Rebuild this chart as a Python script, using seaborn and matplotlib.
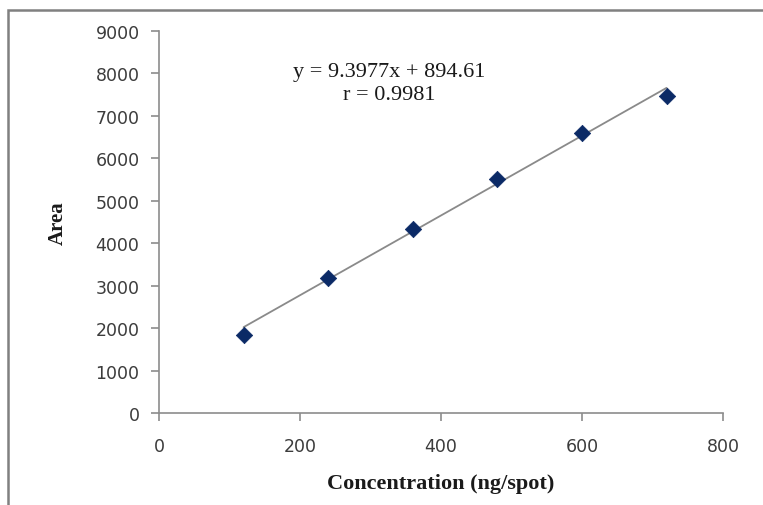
import numpy as np
import pandas as pd
import matplotlib
matplotlib.use("Agg")
import matplotlib.pyplot as plt
from matplotlib.patches import Rectangle
import seaborn as sns

# Calibration data
concentration = [120, 240, 360, 480, 600, 720]          # ng/spot
area = [1846, 3171, 4331, 5522, 6603, 7465]

# Linear fit reported on the chart
slope = 9.3977
intercept = 894.61
r_value = 0.9981

x_ticks = [0, 200, 400, 600, 800]
y_ticks = [0, 1000, 2000, 3000, 4000, 5000, 6000, 7000, 8000, 9000]

sns.set_theme(style="ticks")
plt.rcParams["font.family"] = ["DejaVu Sans"]

W, H, DPI = 763, 506, 100
fig = plt.figure(figsize=(W / DPI, H / DPI), dpi=DPI, facecolor="white")
ax = fig.add_axes([159 / W, 1 - 414 / H, (723 - 159) / W, (414 - 32) / H])
ax.set_facecolor("white")

df = pd.DataFrame({"Concentration": concentration, "Area": area})
fit = pd.DataFrame({"Concentration": [min(concentration), max(concentration)]})
fit["Area"] = slope * fit["Concentration"] + intercept

sns.lineplot(data=fit, x="Concentration", y="Area", ax=ax,
             color="#8a8a8a", linewidth=1.3, zorder=2)
sns.scatterplot(data=df, x="Concentration", y="Area", ax=ax,
                marker="D", s=70, color="#0b2a66", edgecolor="#0b2a66",
                linewidth=0.5, zorder=3)

ax.set_xlim(0, 800)
ax.set_ylim(0, 9000)
ax.set_xticks(x_ticks)
ax.set_yticks(y_ticks)

grey = "#8c8c8c"
for side in ("top", "right"):
    ax.spines[side].set_visible(False)
for side in ("left", "bottom"):
    ax.spines[side].set_color(grey)
    ax.spines[side].set_linewidth(1.2)

ax.tick_params(axis="both", direction="out", color=grey, width=1.2,
               length=6, labelsize=12.5, labelcolor="#3c3c3c")
ax.tick_params(axis="y", pad=8)
ax.tick_params(axis="x", pad=11)

serif = ["Liberation Serif", "DejaVu Serif"]
ax.set_xlabel("Concentration (ng/spot)", fontsize=16, fontweight="bold",
              family=serif, color="#1a1a1a", labelpad=13)
ax.set_ylabel("Area", fontsize=15, fontweight="bold",
              family=serif, color="#1a1a1a", labelpad=20)

ax.text(0.408, 0.893, f"y = {slope}x + {intercept}", transform=ax.transAxes,
        ha="center", va="center", fontsize=16, family=serif, color="#1a1a1a")
ax.text(0.408, 0.833, f"r = {r_value}", transform=ax.transAxes,
        ha="center", va="center", fontsize=16, family=serif, color="#1a1a1a")

# Outer chart frame
fig.patches.append(Rectangle((8 / W, -0.1), 1.2, 1 - 11 / H + 0.1,
                             transform=fig.transFigure, fill=False,
                             edgecolor="#808080", linewidth=1.8))

fig.savefig("out.png", dpi=DPI, facecolor="white")
